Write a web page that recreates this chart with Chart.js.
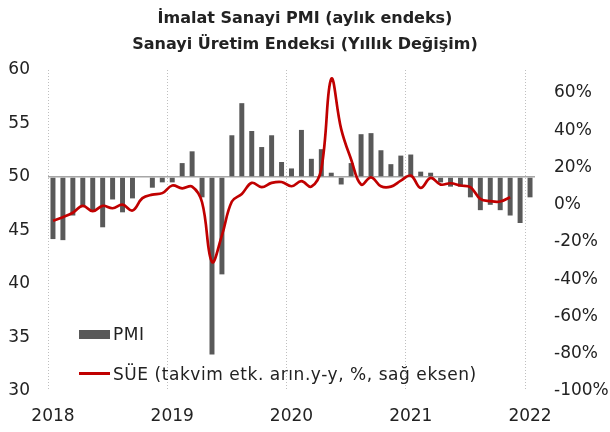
<!DOCTYPE html>
<html>
<head>
<meta charset="utf-8">
<script src="https://cdn.jsdelivr.net/npm/chart.js@4.4.0/dist/chart.umd.min.js"></script>
<style>
  body { margin: 0; background: #fff; }
  #wrap { position: relative; width: 610px; height: 432px; }
  .key { position: absolute; font-family: 'DejaVu Sans', sans-serif; font-size: 17px; line-height: 20px; color: #222; white-space: nowrap; letter-spacing: 0.55px; }
  .swatch { position: absolute; }
</style>
</head>
<body>
<div id="wrap">
  <canvas id="myChart" width="610" height="432"></canvas>
  <div class="swatch" id="pmiBox" style="left:79px; top:330px; width:31px; height:9px;"></div>
  <div class="key" id="pmiText" style="left:113px; top:324px;"></div>
  <div class="swatch" id="sueLine" style="left:79px; top:372px; width:31px; height:3px;"></div>
  <div class="key" id="sueText" style="left:113px; top:364px;"></div>
</div>
<script>
'use strict';

//---------------------- Data -------------------
let years = ['2018', '2019', '2020', '2021', '2022'];

// imalat PMI, aylik (50 ustu / alti)
let pmiValues = [
  44.2, 44.1, 46.4, 47.2, 46.8, 45.3, 47.9, 46.7, 48.0, 50.0, 49.0, 49.5,
  49.5, 51.3, 52.4, 48.1, 33.4, 40.9, 53.9, 56.9, 54.3, 52.8, 53.9, 51.4,
  50.8, 54.4, 51.7, 52.6, 50.4, 49.3, 51.3, 54.0, 54.1, 52.5, 51.2, 52.0,
  52.1, 50.5, 50.4, 49.5, 49.1, 49.1, 48.1, 46.9, 47.4, 46.9, 46.4, 45.7,
  48.1
];

// sanayi uretimi yillik degisim, %
let sueValues = [
  -8.6, -6.7, -4.3, -0.6, -3.5, -0.6, -1.9, 0.0, -3.1, 3.5, 5.4, 6.2,
  10.3, 8.8, 9.7, 1.3, -30.7, -16.5, 1.7, 5.8, 11.7, 9.4, 11.7, 12.2,
  9.9, 12.6, 9.7, 19.2, 67.5, 40.6, 24.3, 10.8, 14.7, 9.9, 9.7, 12.9,
  15.6, 9.0, 14.4, 10.8, 11.5, 10.3, 9.4, 3.1, 1.9, 1.7, 4.0
];

let leftTicks = [30, 35, 40, 45, 50, 55, 60];
let rightTicks = [-100, -80, -60, -40, -20, 0, 20, 40, 60];

let pmiLabel = 'PMI';
let sueLabel = 'SÜE (takvim etk. arın.y-y, %, sağ eksen)';
let titleLines = ['İmalat Sanayi PMI (aylık endeks)', 'Sanayi Üretim Endeksi (Yıllık Değişim)'];

//---------------------- Build -------------------
let months = [];
for (let i = 0; i < pmiValues.length; i++) {
  let y = years[Math.floor(i / 12)];
  let m = (i % 12) + 1;
  months.push(y + '-' + (m < 10 ? '0' + m : m));
}

let barColor = '#595959';
let lineColor = '#C00000';
let textColor = '#222';
let font = "'DejaVu Sans', sans-serif";

document.getElementById('pmiBox').style.background = barColor;
document.getElementById('sueLine').style.background = lineColor;
document.getElementById('pmiText').textContent = pmiLabel;
document.getElementById('sueText').textContent = sueLabel;

function keepTicks(list) {
  return function (scale) {
    scale.ticks = list.map(function (v) { return { value: v }; });
  };
}

let ctx = document.getElementById('myChart').getContext('2d');
let myChart = new Chart(ctx, {
  type: 'bar',
  data: {
    labels: months,
    datasets: [
      {
        type: 'line',
        label: sueLabel,
        data: sueValues,
        yAxisID: 'y1',
        borderColor: lineColor,
        borderWidth: 2.7,
        pointRadius: 0,
        tension: 0.4,
        fill: false,
        order: 1,
      },
      {
        label: pmiLabel,
        data: pmiValues,
        base: 50,
        yAxisID: 'y',
        backgroundColor: barColor,
        barPercentage: 0.5,
        categoryPercentage: 1,
        order: 2,
      },
    ],
  },
  options: {
    responsive: false,
    animation: false,
    devicePixelRatio: 1,
    layout: { padding: 0 },
    plugins: {
      legend: { display: false },
      tooltip: { enabled: false },
      title: {
        display: true,
        text: titleLines,
        color: textColor,
        font: { family: font, size: 16, weight: 'bold', lineHeight: 1.625 },
        padding: { top: 6, bottom: 12 },
      },
    },
    scales: {
      x: {
        offset: true,
        afterFit: function (scale) { scale.height = 41; },
        grid: {
          offset: true,
          drawTicks: false,
          lineWidth: 1,
          color: function (c) {
            return (c.index !== undefined && c.index % 12 === 0) ? '#bfbfbf' : 'rgba(0,0,0,0)';
          },
        },
        border: { display: false, dash: [1, 2] },
        ticks: {
          autoSkip: false,
          maxRotation: 0,
          padding: 15,
          color: textColor,
          font: { family: font, size: 17 },
          callback: function (v, i) {
            return i % 12 === 0 ? years[i / 12] : '';
          },
        },
      },
      y: {
        position: 'left',
        min: 30,
        max: 60,
        afterFit: function (scale) { scale.width = 48; },
        afterBuildTicks: keepTicks(leftTicks),
        grid: {
          drawTicks: false,
          lineWidth: 1.5,
          color: function (c) {
            return (c.tick && c.tick.value === 50) ? '#a6a6a6' : 'rgba(0,0,0,0)';
          },
        },
        border: { display: false },
        ticks: {
          padding: 18,
          color: textColor,
          font: { family: font, size: 17 },
        },
      },
      y1: {
        position: 'right',
        min: -100,
        max: 72.3,
        afterFit: function (scale) { scale.width = 75; },
        afterBuildTicks: keepTicks(rightTicks),
        grid: { display: false, drawTicks: false },
        border: { display: false },
        ticks: {
          padding: 19,
          color: textColor,
          font: { family: font, size: 17 },
          callback: function (v) { return v + '%'; },
        },
      },
    },
  },
});
</script>
</body>
</html>
